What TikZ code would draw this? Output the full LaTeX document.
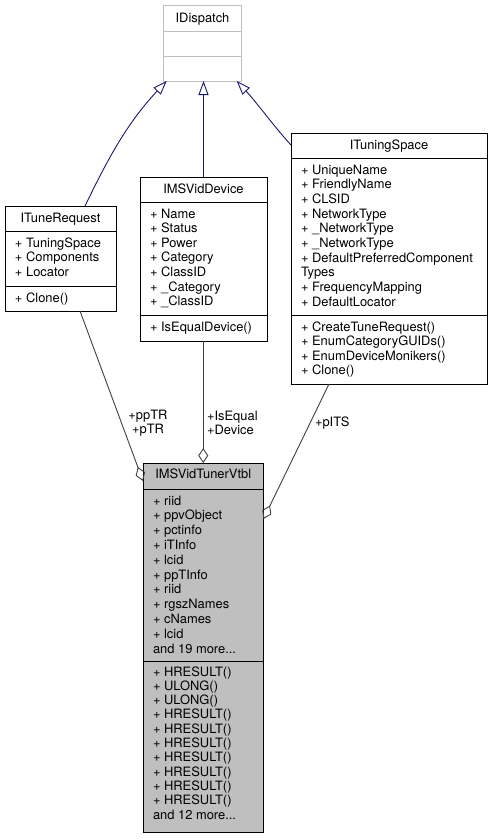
\documentclass[tikz,border=0pt]{standalone}
\usepackage{fontspec}
\setmainfont{TeX Gyre Heros}
\usetikzlibrary{arrows.meta,calc}
\definecolor{inhblue}{HTML}{191970}
\definecolor{edgegray}{HTML}{404040}
\definecolor{lightframe}{HTML}{BFBFBF}
\definecolor{vtfill}{HTML}{BFBFBF}
\newcommand\umlfont{\fontsize{12.9}{14.6}\selectfont}
\begin{document}
\begin{tikzpicture}[x=1pt,y=-1pt,
  box/.style={draw=black,line width=1pt,rectangle,inner sep=0pt,outer sep=0pt},
  sepline/.style={line width=1pt},
  mem/.style={inner sep=0pt,outer sep=0pt,anchor=base west,font=\umlfont},
  ttl/.style={inner sep=0pt,outer sep=0pt,anchor=base,font=\umlfont},
  inh/.style={draw=inhblue,line width=0.9pt,-{Triangle[open,length=14pt,width=10pt]}},
  agg/.style={draw=edgegray,line width=0.9pt,{Diamond[open,length=15pt,width=10pt]}-},
  lbl/.style={inner sep=0pt,outer sep=0pt,font=\umlfont,text=black}
]
\useasboundingbox (0,0) rectangle (492,839);

% ---------- IDispatch ----------
\node[box,draw=lightframe,minimum width=78pt,minimum height=76pt] (idisp) at (202.5,43) {};
\draw[sepline,lightframe] ([yshift=-26.5pt]idisp.north west) -- ([yshift=-26.5pt]idisp.north east);
\draw[sepline,lightframe] ([yshift=-51.5pt]idisp.north west) -- ([yshift=-51.5pt]idisp.north east);
\node[ttl] (idispT) at (202.5,22.5) {IDispatch};

% ---------- ITuneRequest ----------
\node[box,minimum width=111pt,minimum height=105pt] (tr) at (60.5,258.5) {};
\draw[sepline] ([yshift=-25pt]tr.north west) -- ([yshift=-25pt]tr.north east);
\draw[sepline] ([yshift=-80pt]tr.north west) -- ([yshift=-80pt]tr.north east);
\node[ttl] (trT) at (60.5,222.5) {ITuneRequest};
\foreach [count=\i from 0] \m in {+ TuningSpace,+ Components,+ Locator}
  \node[mem] (tra\i) at (15,247+14.6*\i) {\m};
\node[mem] (trm0) at (15,302) {+ Clone()};

% ---------- IMSVidDevice ----------
\node[box,minimum width=127pt,minimum height=164pt] (dev) at (203.5,259) {};
\draw[sepline] ([yshift=-25pt]dev.north west) -- ([yshift=-25pt]dev.north east);
\draw[sepline] ([yshift=-138pt]dev.north west) -- ([yshift=-138pt]dev.north east);
\node[ttl] (devT) at (203.5,193.5) {IMSVidDevice};
\foreach [count=\i from 0] \m in {+ Name,+ Status,+ Power,+ Category,+ ClassID,+ \_Category,+ \_ClassID}
  \node[mem] (deva\i) at (150,218+14.6*\i) {\m};
\node[mem] (devm0) at (150,331) {+ IsEqualDevice()};

% ---------- ITuningSpace ----------
\node[box,minimum width=196pt,minimum height=251pt] (ts) at (389,258.5) {};
\draw[sepline] ([yshift=-25pt]ts.north west) -- ([yshift=-25pt]ts.north east);
\draw[sepline] ([yshift=-182pt]ts.north west) -- ([yshift=-182pt]ts.north east);
\node[ttl] (tsT) at (389,149) {ITuningSpace};
\foreach [count=\i from 0] \m in {+ UniqueName,+ FriendlyName,+ CLSID,+ NetworkType,+ \_NetworkType,+ \_NetworkType,+ DefaultPreferredComponent,Types,+ FrequencyMapping,+ DefaultLocator}
  \node[mem] (tsa\i) at (301,174+14.67*\i) {\m};
\foreach [count=\i from 0] \m in {+ CreateTuneRequest(),+ EnumCategoryGUIDs(),+ EnumDeviceMonikers(),+ Clone()}
  \node[mem] (tsm\i) at (301,331+14.6*\i) {\m};

% ---------- IMSVidTunerVtbl ----------
\node[box,fill=vtfill,minimum width=120.5pt,minimum height=369.5pt] (vt) at (203.25,647.75) {};
\draw[sepline] ([yshift=-26pt]vt.north west) -- ([yshift=-26pt]vt.north east);
\draw[sepline] ([yshift=-198pt]vt.north west) -- ([yshift=-198pt]vt.north east);
\node[ttl] (vtT) at (203.25,478.5) {IMSVidTunerVtbl};
\foreach [count=\i from 0] \m in {+ riid,+ ppvObject,+ pctinfo,+ iTInfo,+ lcid,+ ppTInfo,+ riid,+ rgszNames,+ cNames,+ lcid}
  \node[mem] (vta\i) at (153,505+14.8*\i) {\m};
\node[mem] (vtamore) at (153,653) {and 19 more...};
\foreach [count=\i from 0] \m in {+ HRESULT(),+ ULONG(),+ ULONG(),+ HRESULT(),+ HRESULT(),+ HRESULT(),+ HRESULT(),+ HRESULT(),+ HRESULT(),+ HRESULT()}
  \node[mem] (vtm\i) at (153,676+14.33*\i) {\m};
\node[mem] (vtmmore) at (153,819.3) {and 12 more...};

% ---------- inheritance ----------
\draw[inh] ([xshift=24.5pt]tr.north) .. controls (105,165) and (125,125) .. ([xshift=-35.8pt]idisp.south);
\draw[inh] (dev.north) -- (dev.north |- idisp.south);
\draw[inh] ([yshift=-12pt]ts.north west) .. controls (276,129) and (258,104) .. ([xshift=34.2pt]idisp.south);

% ---------- aggregation ----------
\draw[agg] ([yshift=-18pt]vt.north west) -- ([xshift=19.5pt]tr.south);
\draw[agg] (vt.north) -- (vt.north |- dev.south);
\draw[agg] ([yshift=-56pt]vt.north east) -- ([xshift=-60pt]ts.south);

% ---------- labels ----------
\node[lbl,align=center] (l1) at (148,423) {+ppTR\\+pTR};
\node[lbl,align=left,anchor=west] (l2) at (207,423) {+IsEqual\\+Device};
\node[lbl,anchor=west] (l3) at (315,423) {+pITS};
\end{tikzpicture}
\end{document}
